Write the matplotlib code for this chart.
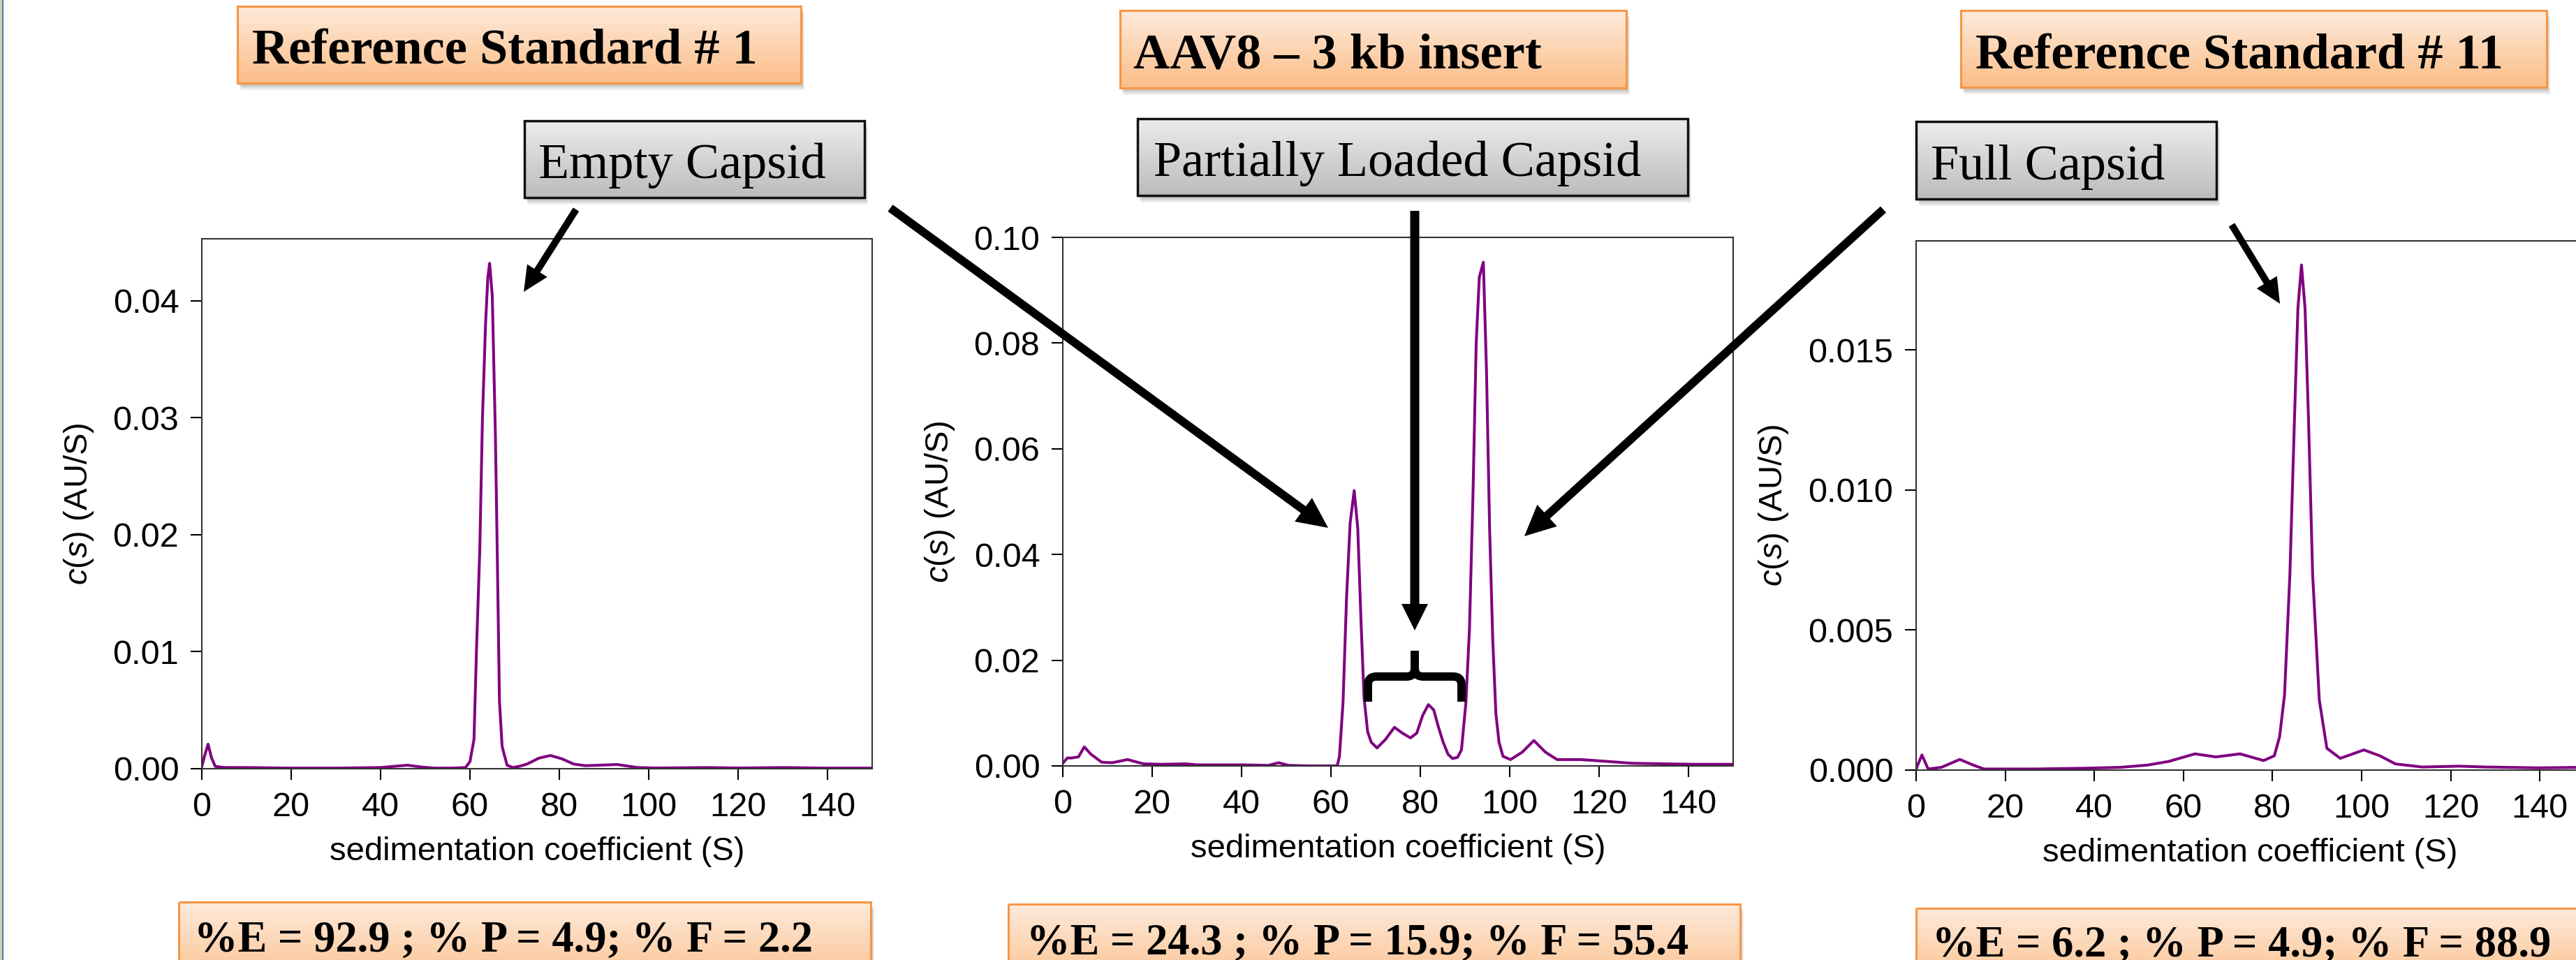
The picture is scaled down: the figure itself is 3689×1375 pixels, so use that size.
import numpy as np
import matplotlib
matplotlib.use('Agg')
import matplotlib.pyplot as plt
from matplotlib.colors import LinearSegmentedColormap
from matplotlib.patches import Rectangle, FancyArrow, PathPatch
from matplotlib.path import Path
from matplotlib.ticker import FormatStrFormatter

W, H = 3689, 1375

# panel texts
panel_titles = ['Reference Standard # 1', 'AAV8 – 3 kb insert', 'Reference Standard # 11']
capsid_labels = ['Empty Capsid', 'Partially Loaded Capsid', 'Full Capsid']
pct_empty = ['92.9', '24.3', '6.2']
pct_partial = ['4.9', '15.9', '4.9']
pct_full = ['2.2', '55.4', '88.9']

x_label = 'sedimentation coefficient (S)'
y_label = r'$c$($s$) (AU/S)'
x_ticks = [0, 20, 40, 60, 80, 100, 120, 140]

# Reference Standard # 1 : c(s) distribution
s_ref1 = [0, 0.7, 1.4, 2.2, 3.0, 5, 10, 20, 30, 40, 43, 46, 49, 52, 56, 59, 60, 60.9, 61.5, 62.2,
          62.8, 63.5, 64.0, 64.4, 65.0, 65.7, 66.1, 66.6, 67.2, 68.3, 69.6, 71, 72.8, 75.4, 78.0,
          80.6, 83.2, 85.8, 89, 92.9, 97.5, 102, 108, 113, 120, 130, 140, 150]
c_ref1 = [0.0002, 0.0012, 0.0021, 0.0009, 0.0002, 0.0001, 0.0001, 0.00005, 0.00005, 0.0001,
          0.0002, 0.0003, 0.00015, 0.00005, 0.00005, 0.0001, 0.0006, 0.0025, 0.0106, 0.0187,
          0.030, 0.0381, 0.0420, 0.0432, 0.0404, 0.0284, 0.0187, 0.0058, 0.0019, 0.0003,
          0.0001, 0.0002, 0.0004, 0.0009, 0.00113, 0.00084, 0.0004, 0.00026, 0.0003, 0.00036,
          0.0001, 0.00006, 0.00008, 0.0001, 0.00006, 0.0001, 0.00005, 0.00005]

# AAV8 - 3 kb insert
s_aav8 = [0, 1.0, 2.0, 3.5, 4.8, 6.3, 8.7, 11, 14.5, 18, 22, 27.5, 30, 40, 46, 48.3, 50.5, 55,
          61.4, 61.9, 62.7, 63.5, 64.3, 65.2, 66.0, 66.7, 67.4, 68.2, 69.0, 70.3, 72.2, 74.2, 76,
          77.8, 79.2, 80.5, 81.8, 83.0, 84.0, 85.1, 86.2, 87.2, 88.3, 89.2, 90.2, 91.0, 91.8,
          92.5, 93.2, 94.1, 94.8, 95.5, 96.2, 96.9, 97.6, 98.5, 100.2, 102.8, 105.4, 108.0,
          110.6, 115.8, 121, 127.4, 134, 142, 150]
c_aav8 = [0.0005, 0.0015, 0.0015, 0.0017, 0.0036, 0.0022, 0.0007, 0.0006, 0.0012, 0.0004,
          0.0003, 0.0004, 0.0002, 0.0002, 0.0001, 0.0006, 0.0001, 0.0, 0.0, 0.0018,
          0.012, 0.032, 0.046, 0.0521, 0.045, 0.028, 0.013, 0.0065, 0.0045, 0.0034,
          0.0050, 0.0073, 0.0062, 0.0053, 0.0062, 0.0095, 0.0116, 0.0106, 0.0075, 0.0045,
          0.0022, 0.0014, 0.0016, 0.0030, 0.0120, 0.026, 0.052, 0.080, 0.0925, 0.0953,
          0.075, 0.045, 0.024, 0.010, 0.0045, 0.0018, 0.0012, 0.0026, 0.0048, 0.0026,
          0.0012, 0.0012, 0.0009, 0.0005, 0.0004, 0.0003, 0.0003]

# Reference Standard # 11
s_ref11 = [0, 1.3, 2.7, 5.7, 9.8, 12.8, 15.2, 27, 38.9, 46, 52, 56.7, 62.6, 67.3, 72.7, 78.0,
           80.4, 81.6, 82.7, 83.9, 84.9, 85.7, 86.5, 87.3, 88.1, 89.0, 90.5, 92.2, 95.2, 97.5,
           100.5, 104.1, 107.6, 113.6, 121.9, 127.8, 139.7, 150]
c_ref11 = [0.00004, 0.00054, 0.00004, 0.0001, 0.00038, 0.00018, 0.00004, 0.00004, 0.00007,
           0.0001, 0.00018, 0.00031, 0.00058, 0.00047, 0.00058, 0.00034, 0.00051, 0.0012,
           0.0027, 0.0070, 0.0124, 0.0165, 0.01804, 0.0165, 0.0124, 0.0070, 0.0025, 0.00078,
           0.00042, 0.00055, 0.00072, 0.00051, 0.00022, 0.00011, 0.00014, 0.00011, 0.00008,
           0.0001]

y_ticks = [[0, 0.01, 0.02, 0.03, 0.04],
           [0, 0.02, 0.04, 0.06, 0.08, 0.10],
           [0, 0.005, 0.010, 0.015]]
y_fmt = ['%.2f', '%.2f', '%.3f']
y_max = [0.0453, 0.0998, 0.0189]

plt.rcParams['font.family'] = 'Liberation Sans'
plt.rcParams['mathtext.fontset'] = 'custom'
plt.rcParams['mathtext.rm'] = 'Liberation Sans'
plt.rcParams['mathtext.it'] = 'Liberation Sans:italic'

fig = plt.figure(figsize=(W / 100, H / 100), dpi=100)


def px_axes(x0, y0, x1, y1):
    return fig.add_axes([x0 / W, 1 - y1 / H, (x1 - x0) / W, (y1 - y0) / H])


axes = [px_axes(289, 342, 1249, 1101),
        px_axes(1522, 340, 2482, 1097),
        px_axes(2744, 345, 3701, 1103)]
series = [(s_ref1, c_ref1), (s_aav8, c_aav8), (s_ref11, c_ref11)]

for i, ax in enumerate(axes):
    s, c = series[i]
    ax.plot(s, c, color='#800080', lw=2.9, solid_joinstyle='round')
    ax.set_xlim(0, 150)
    ax.set_ylim(0, y_max[i])
    ax.set_xticks(x_ticks)
    ax.set_yticks(y_ticks[i])
    ax.yaxis.set_major_formatter(FormatStrFormatter(y_fmt[i]))
    ax.tick_params(direction='out', length=11.5, width=1.5, labelsize=35, pad=12,
                   top=False, right=False)
    for sp in ax.spines.values():
        sp.set_linewidth(1.5)
        sp.set_color('#333333')
    ax.set_xlabel(x_label, fontsize=34, labelpad=14)
    ax.set_ylabel(y_label, fontsize=34, labelpad=18)

# overlay in pixel coordinates for boxes, arrows and brace
ov = fig.add_axes([0, 0, 1, 1], zorder=10)
ov.axis('off')


def grad_box(x0, y0, x1, y1, c_top, c_bot, edge, lw):
    for k in range(4):
        ov.add_patch(Rectangle((x0 + 2 + k, y0 + 4 + 2 * k), x1 - x0, y1 - y0,
                               fc='black', ec='none', alpha=0.06, zorder=1))
    cmap = LinearSegmentedColormap.from_list('g', [c_top, c_bot])
    grad = np.linspace(0, 1, 64).reshape(-1, 1)
    ov.imshow(grad, cmap=cmap, extent=(x0, x1, y1, y0), aspect='auto',
              interpolation='bilinear', zorder=2)
    ov.add_patch(Rectangle((x0, y0), x1 - x0, y1 - y0, fc='none', ec=edge, lw=lw, zorder=3))


orange_boxes = [(340, 9, 1147, 119), (1604, 15, 2329, 126), (2808, 15, 3647, 125)]
gray_boxes = [(751, 173, 1238, 283), (1629, 170, 2417, 280), (2744, 174, 3174, 285)]
stat_boxes = [(256, 1292, 1247, 1420), (1444, 1295, 2492, 1420), (2744, 1301, 3740, 1420)]
title_xy = [(361, 91), (1623, 97), (2829, 98)]
label_xy = [(771, 255), (1652, 252), (2765, 257)]
stat_xy = [(278, 1363), (1470, 1367), (2767, 1370)]

for i in range(3):
    grad_box(*orange_boxes[i], '#FEEADB', '#FBBE88', '#F79646', 2.2)
    ov.text(*title_xy[i], panel_titles[i], family='Liberation Serif', weight='bold',
            fontsize=52, va='baseline', ha='left', zorder=4)
    grad_box(*gray_boxes[i], '#ECECEC', '#BCBCBC', '#111111', 2.5)
    ov.text(*label_xy[i], capsid_labels[i], family='Liberation Serif',
            fontsize=52, va='baseline', ha='left', zorder=4)
    grad_box(*stat_boxes[i], '#FEEADB', '#FBBE88', '#F79646', 2.2)
    stat = f'%E = {pct_empty[i]} ; % P = {pct_partial[i]}; % F = {pct_full[i]}'
    ov.text(*stat_xy[i], stat, family='Liberation Serif', weight='bold',
            fontsize=45, va='baseline', ha='left', zorder=4)

# arrows: start, end, shaft width, head width, head length
arrows = [((825, 300), (750, 418), 10, 34, 36),
          ((1275, 298), (1902, 756), 12, 42, 44),
          ((2026, 302), (2026, 903), 13, 38, 38),
          ((2697, 300), (2183, 768), 12, 42, 44),
          ((3196, 322), (3265, 435), 10, 34, 36)]
for (x0, y0), (x1, y1), w, hw, hl in arrows:
    ov.add_patch(FancyArrow(x0, y0, x1 - x0, y1 - y0, width=w, head_width=hw,
                            head_length=hl, length_includes_head=True,
                            fc='black', ec='none', zorder=6))

# curly brace over the partially loaded region
bl, br, cx, yb, ye, yt, r = 1959, 2093, 2026, 969, 1005, 932, 12
verts = [(bl, ye), (bl, yb + r), (bl, yb), (bl + r, yb), (cx - r, yb), (cx, yb), (cx, yb - r), (cx, yt),
         (br, ye), (br, yb + r), (br, yb), (br - r, yb), (cx + r, yb), (cx, yb), (cx, yb - r)]
codes = [Path.MOVETO, Path.LINETO, Path.CURVE3, Path.CURVE3, Path.LINETO, Path.CURVE3, Path.CURVE3,
         Path.LINETO,
         Path.MOVETO, Path.LINETO, Path.CURVE3, Path.CURVE3, Path.LINETO, Path.CURVE3, Path.CURVE3]
ov.add_patch(PathPatch(Path(verts, codes), fc='none', ec='black', lw=8.6,
                       capstyle='butt', joinstyle='round', zorder=6))

# slide edge on the left
ov.add_patch(Rectangle((0, 0), 3, H, fc='#DCCFAE', ec='none', zorder=1))
ov.plot([4, 4], [0, H], color='#4A7EBB', lw=1.5, zorder=1)

ov.set_xlim(0, W)
ov.set_ylim(H, 0)

fig.savefig('out.png', dpi=100, facecolor='white')
